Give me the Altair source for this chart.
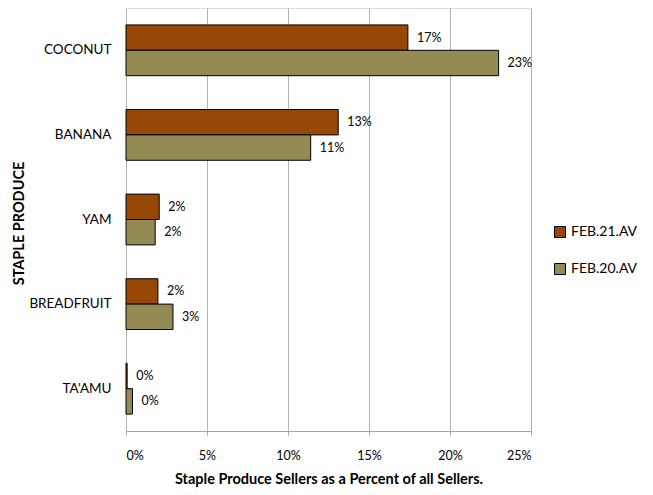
import altair as alt
import pandas as pd

categories = ["COCONUT", "BANANA", "YAM", "BREADFRUIT", "TA'AMU"]
series = ["FEB.21.AV", "FEB.20.AV"]
feb21 = [0.174, 0.131, 0.0205, 0.0197, 0.0007]
feb20 = [0.230, 0.114, 0.018, 0.029, 0.004]
x_ticks = [0, 0.05, 0.10, 0.15, 0.20, 0.25]
colors = ["#974706", "#948A54"]

rows = []
for c, a, b in zip(categories, feb21, feb20):
    rows.append({"cat": c, "series": series[0], "value": a})
    rows.append({"cat": c, "series": series[1], "value": b})
df = pd.DataFrame(rows)

FONT = "Lato"

y_enc = alt.Y("cat:N", sort=categories,
              scale=alt.Scale(paddingInner=0.4, paddingOuter=0.2),
              axis=alt.Axis(title="STAPLE PRODUCE", titleFontWeight="bold",
                            titleFontSize=14.5, titleX=-107, titleY=215,
                            titleBaseline="middle", titleAlign="center",
                            titleColor="#000", labelFontSize=13.5, labelColor="#000",
                            labelPadding=15, ticks=False, domain=False, grid=False))
x_enc = alt.X("value:Q", scale=alt.Scale(domain=[0, 0.25], nice=False),
              axis=alt.Axis(values=x_ticks, format=".0%",
                            title="Staple Produce Sellers as a Percent of all Sellers.",
                            titleFontWeight="bold", titleFontSize=14.5, titleColor="#000",
                            titleY=48, titleBaseline="middle",
                            labelFontSize=12.5, labelColor="#000", labelPadding=14,
                            tickSize=4, tickColor="#a6a6a6", domainColor="#a6a6a6",
                            gridColor="#b3b3b3", grid=True))
yoff = alt.YOffset("series:N", sort=series)

bars = alt.Chart(df).mark_bar(stroke="#000", strokeWidth=1).encode(
    y=y_enc, x=x_enc, yOffset=yoff,
    color=alt.Color("series:N", sort=series,
                    scale=alt.Scale(domain=series, range=colors),
                    legend=alt.Legend(title=None, orient="none", legendX=427, legendY=217,
                                      symbolType="square", symbolSize=121,
                                      symbolStrokeColor="#000", symbolStrokeWidth=1,
                                      labelFontSize=14, labelColor="#000",
                                      rowPadding=21, labelOffset=4)),
)

labels = alt.Chart(df).mark_text(align="left", baseline="middle", dx=9,
                                 fontSize=12.5, font=FONT, color="#000").encode(
    y=alt.Y("cat:N", sort=categories), x="value:Q", yOffset=yoff,
    text=alt.Text("value:Q", format=".0%"),
)

chart = alt.layer(bars, labels).properties(
    width=405, height=423,
    autosize=alt.AutoSizeParams(type="none"),
    padding={"left": 118, "top": 0, "right": 114, "bottom": 56},
).configure_view(stroke=None).configure(font=FONT, background="white")

chart.save("out.html", embed_options={"renderer": "svg", "actions": False})
